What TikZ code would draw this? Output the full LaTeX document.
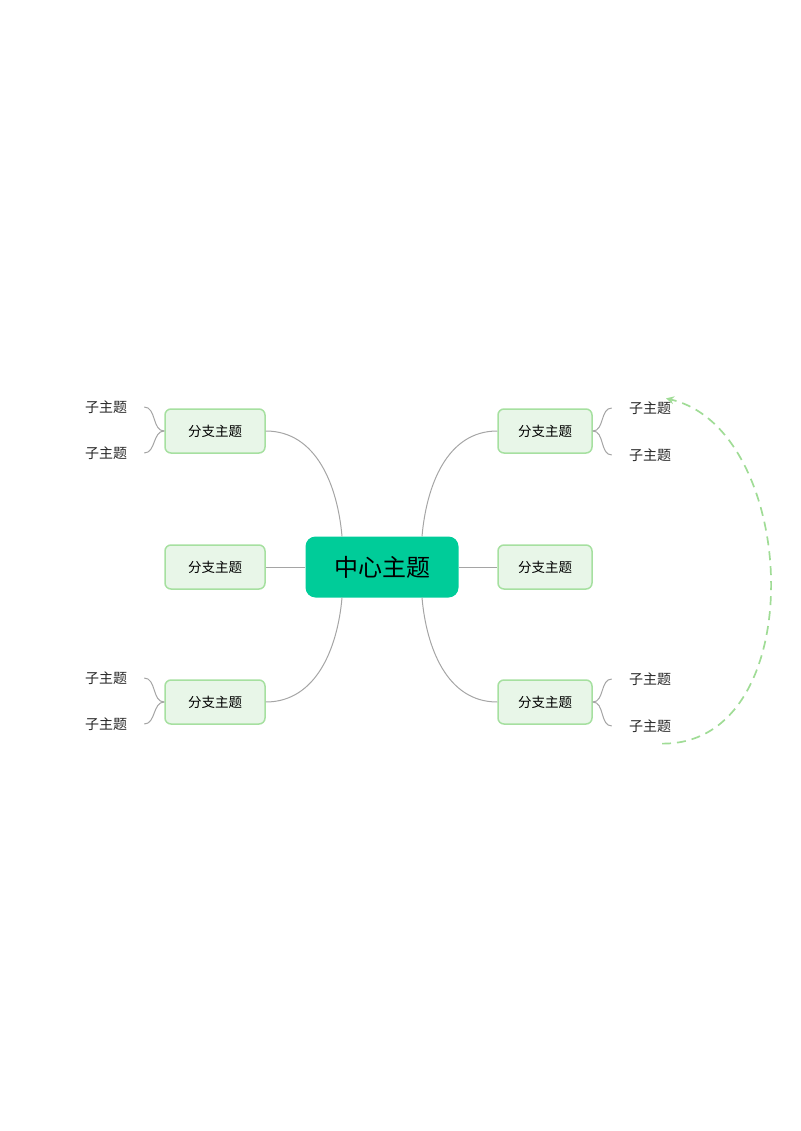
\documentclass[tikz,border=0pt]{standalone}
\usepackage{fontspec}
\setmainfont{Noto Sans CJK SC}
\usetikzlibrary{arrows.meta,positioning,calc}
\definecolor{centergreen}{RGB}{0,204,153}
\definecolor{branchfill}{RGB}{232,246,232}
\definecolor{branchline}{RGB}{166,224,160}
\definecolor{linkgray}{RGB}{165,165,165}
\definecolor{relgreen}{RGB}{160,220,150}

\begin{document}
\begin{tikzpicture}[x=1pt, y=-1pt,
    center/.style={fill=centergreen, rounded corners=10pt, minimum width=153pt, minimum height=61pt, font=\fontsize{24}{28}\selectfont, inner sep=0pt},
    branch/.style={fill=branchfill, draw=branchline, line width=1.5pt, rounded corners=6pt, minimum height=44pt, font=\fontsize{13.5}{16}\selectfont, inner sep=0pt},
    sub/.style={font=\fontsize{14}{16}\selectfont, text=black!85, inner sep=2pt},
    link/.style={draw=linkgray, line width=1pt},
    rel/.style={draw=relgreen, line width=1.7pt, dash pattern=on 9pt off 6pt, -{Stealth[length=8pt,width=8pt]}}]
    \useasboundingbox (0,0) rectangle (800,1131);

    \node[center] (c) at (382,567) {中心主题};

    \node[branch, minimum width=100pt] (b1) at (215,431) {分支主题};
    \node[branch, minimum width=100pt] (b2) at (215,567) {分支主题};
    \node[branch, minimum width=100pt] (b3) at (215,702) {分支主题};
    \node[branch, minimum width=94pt] (b4) at (545,431) {分支主题};
    \node[branch, minimum width=94pt] (b5) at (545,567) {分支主题};
    \node[branch, minimum width=94pt] (b6) at (545,702) {分支主题};

    \node[sub] (s1) at (106,407) {子主题};
    \node[sub] (s2) at (106,453) {子主题};
    \node[sub] (s3) at (106,678) {子主题};
    \node[sub] (s4) at (106,724) {子主题};
    \node[sub] (s5) at (650,408) {子主题};
    \node[sub] (s6) at (650,455) {子主题};
    \node[sub] (s7) at (650,679) {子主题};
    \node[sub] (s8) at (650,726) {子主题};

    % center to branches
    \coordinate (cnw) at ($(c.north)+(-40,0)$);
    \coordinate (cne) at ($(c.north)+(40,0)$);
    \coordinate (csw) at ($(c.south)+(-40,0)$);
    \coordinate (cse) at ($(c.south)+(40,0)$);
    \draw[link] (cnw) to[out=95,in=0] (b1.east);
    \draw[link] (c.west) -- (b2.east);
    \draw[link] (csw) to[out=-95,in=0] (b3.east);
    \draw[link] (cne) to[out=85,in=180] (b4.west);
    \draw[link] (c.east) -- (b5.west);
    \draw[link] (cse) to[out=-85,in=180] (b6.west);

    % branches to subtopics
    \draw[link] (b1.west) to[out=180,in=0] ($(s1.east)+(15,0)$);
    \draw[link] (b1.west) to[out=180,in=0] ($(s2.east)+(15,0)$);
    \draw[link] (b3.west) to[out=180,in=0] ($(s3.east)+(15,0)$);
    \draw[link] (b3.west) to[out=180,in=0] ($(s4.east)+(15,0)$);
    \draw[link] (b4.east) to[out=0,in=180] ($(s5.west)+(-15,0)$);
    \draw[link] (b4.east) to[out=0,in=180] ($(s6.west)+(-15,0)$);
    \draw[link] (b6.east) to[out=0,in=180] ($(s7.west)+(-15,0)$);
    \draw[link] (b6.east) to[out=0,in=180] ($(s8.west)+(-15,0)$);

    % relationship
    \coordinate (rs) at ($(s8.south)+(12,9)$);
    \coordinate (re) at ($(s5.north)+(16,-1)$);
    \draw[rel] (rs) .. controls (812,745) and (800,430) .. (re);
\end{tikzpicture}
\end{document}
